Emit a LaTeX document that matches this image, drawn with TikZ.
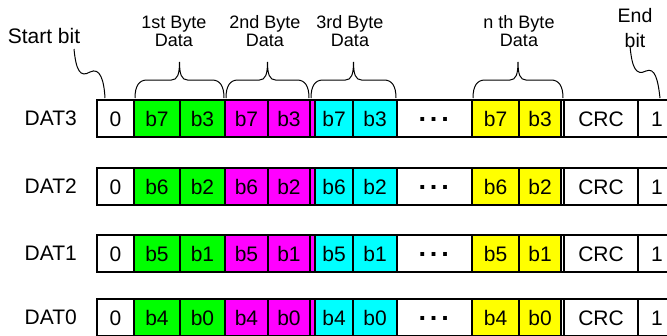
\documentclass[tikz,border=0pt]{standalone}
\usepackage{fontspec}
\setmainfont{Liberation Sans}
\usetikzlibrary{calc,positioning}
\definecolor{bgreen}{RGB}{0,255,0}
\definecolor{bmag}{RGB}{255,0,255}
\definecolor{bcyan}{RGB}{0,255,255}
\definecolor{byel}{RGB}{255,255,0}
\tikzset{
  cell/.style={draw=black, line width=1.5pt, minimum height=37pt, inner sep=0pt, outer sep=0pt,
    text height=15pt, text depth=0pt, font=\fontsize{21}{24}\selectfont, text=black},
  rowframe/.style={draw=black, line width=2.2pt},
  rowlabel/.style={font=\fontsize{21}{24}\selectfont, inner sep=0pt},
  toplabel/.style={font=\fontsize{18}{18}\selectfont, align=center, inner sep=0pt, anchor=south},
  bracestyle/.style={draw=black, line width=1pt},
  wiggle/.style={draw=black, line width=1pt},
}
\newcommand{\mycell}[6]{% name, x1, x2, ytop, fill, text
  \node[cell, fill=#5, minimum width={(#3-#2)*1pt}] (#1) at ({(#2+#3)/2}, {#4+18.5}) {#6};}
\newcommand{\mybrace}[2]{%
  \draw[bracestyle] let \p1=(#1.north west), \p2=(#2.north east), \p3=($(\p1)!0.5!(\p2)$) in
    (\x1+1pt,\y1+2pt) .. controls (\x1+1pt,\y1+14pt) and (\x1+5pt,\y1+20pt) .. (\x1+13pt,\y1+20pt)
    -- (\x3-8pt,\y1+20pt) .. controls (\x3-2pt,\y1+20pt) and (\x3,\y1+26pt) .. (\x3,\y1+38pt)
    .. controls (\x3,\y1+26pt) and (\x3+2pt,\y1+20pt) .. (\x3+8pt,\y1+20pt)
    -- (\x2-13pt,\y1+20pt) .. controls (\x2-5pt,\y1+20pt) and (\x2-1pt,\y1+14pt) .. (\x2-1pt,\y1+2pt);}
\newcommand{\bigdots}{\raisebox{-2.5pt}{\fontsize{27}{27}\selectfont\textbf{·\hspace{2.5pt}·\hspace{2.5pt}·}}}
\begin{document}
\begin{tikzpicture}[x=1pt,y=-1pt]
\useasboundingbox (0,0) rectangle (667,335);
\clip (0,0) rectangle (667,335);
\foreach \r/\yt/\hi/\lo in {3/100/7/3, 2/168/6/2, 1/235/5/1, 0/299/4/0} {
  \mycell{r\r-z}{97}{134}{\yt}{white}{0}
  \mycell{r\r-a}{134}{180}{\yt}{bgreen}{b\hi}
  \mycell{r\r-b}{180}{225}{\yt}{bgreen}{b\lo}
  \mycell{r\r-c}{225}{268}{\yt}{bmag}{b\hi}
  \mycell{r\r-d}{268}{310}{\yt}{bmag}{b\lo}
  \mycell{r\r-s}{310}{315}{\yt}{bmag}{}
  \mycell{r\r-e}{315}{353}{\yt}{bcyan}{b\hi}
  \mycell{r\r-f}{353}{397}{\yt}{bcyan}{b\lo}
  \mycell{r\r-g}{397}{472}{\yt}{white}{\bigdots}
  \mycell{r\r-h}{472}{519}{\yt}{byel}{b\hi}
  \mycell{r\r-i}{519}{561}{\yt}{byel}{b\lo}
  \mycell{r\r-j}{561}{564}{\yt}{white}{}
  \mycell{r\r-k}{564}{638}{\yt}{white}{CRC}
  \mycell{r\r-l}{638}{676}{\yt}{white}{1}
  \draw[rowframe] (r\r-z.north west) rectangle (r\r-l.south east);
  \node[rowlabel, left=20pt of r\r-z] (lab\r) {DAT\r};
}
% braces
\mybrace{r3-a}{r3-b}
\mybrace{r3-c}{r3-d}
\mybrace{r3-s}{r3-f}
\mybrace{r3-h}{r3-j}
% labels
\node[toplabel] (byte1) at (174,47) {1st Byte\\Data};
\node[toplabel] (byte2) at (265,47) {2nd Byte\\Data};
\node[toplabel] (byte3) at (350,47) {3rd Byte\\Data};
\node[toplabel] (byten) at (519,47) {n th Byte\\Data};
\node[font=\fontsize{21}{24}\selectfont, inner sep=0pt, anchor=base] (startlbl) at (44,43) {Start bit};
\node[font=\fontsize{19.5}{25}\selectfont, align=center, inner sep=0pt, anchor=south] (endlbl) at (635,48) {End\\bit};
% wiggles
\coordinate (sbA) at (74,49);
\coordinate (sbM) at (90,72);
\coordinate (sbB) at (105,98);
\draw[wiggle] (sbA) .. controls (76,70) and (80,78) .. (sbM) .. controls (100,67) and (104,80) .. (sbB);
\coordinate (ebA) at (630,46);
\coordinate (ebM) at (646,71);
\coordinate (ebB) at (660,98);
\draw[wiggle] (ebA) .. controls (632,68) and (636,76) .. (ebM) .. controls (655,67) and (658,80) .. (ebB);
\end{tikzpicture}
\end{document}
